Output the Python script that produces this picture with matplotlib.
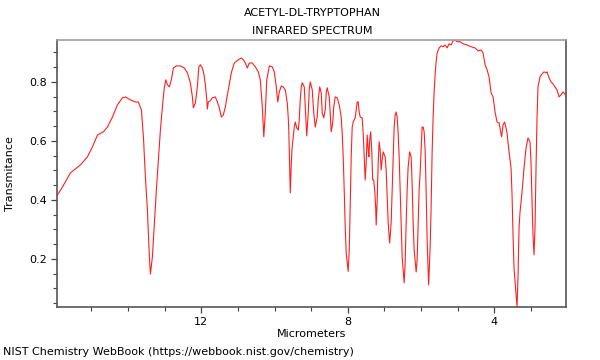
"""IR spectrum of acetyl-DL-tryptophan, NIST WebBook style."""
import matplotlib

matplotlib.use("Agg")
import matplotlib.pyplot as plt  # noqa: E402
from matplotlib.ticker import MultipleLocator  # noqa: E402

TITLE = "ACETYL-DL-TRYPTOPHAN"
SUBTITLE = "INFRARED SPECTRUM"
X_LABEL = "Micrometers"
Y_LABEL = "Transmitance"
FOOTER = "NIST Chemistry WebBook (https://webbook.nist.gov/chemistry)"

# wavelength (micrometers) and transmittance
micrometers = [
    15.929, 15.792, 15.574, 15.301, 15.110, 14.974, 14.837, 14.674, 14.565, 14.428,
    14.292, 14.155, 14.073, 13.937, 13.801, 13.719, 13.637, 13.582, 13.528, 13.473,
    13.419, 13.391, 13.337, 13.282, 13.228, 13.173, 13.118, 13.064, 13.009, 12.968,
    12.927, 12.873, 12.818, 12.764, 12.682, 12.573, 12.464, 12.382, 12.300, 12.245,
    12.218, 12.163, 12.109, 12.068, 12.027, 11.972, 11.931, 11.891, 11.850, 11.836,
    11.809, 11.754, 11.700, 11.618, 11.563, 11.509, 11.454, 11.399, 11.345, 11.263,
    11.181, 11.099, 10.990, 10.908, 10.854, 10.799, 10.745, 10.690, 10.608, 10.526,
    10.444, 10.390, 10.335, 10.294, 10.253, 10.213, 10.144, 10.062, 10.008, 9.953,
    9.912, 9.871, 9.817, 9.762, 9.708, 9.653, 9.626, 9.612, 9.590, 9.571,
    9.550, 9.525, 9.498, 9.462, 9.435, 9.394, 9.353, 9.326, 9.298, 9.271,
    9.244, 9.189, 9.162, 9.121, 9.080, 9.053, 9.026, 8.971, 8.930, 8.889,
    8.835, 8.807, 8.767, 8.726, 8.698, 8.657, 8.616, 8.589, 8.562, 8.507,
    8.480, 8.453, 8.412, 8.384, 8.344, 8.289, 8.234, 8.180, 8.153, 8.125,
    8.098, 8.071, 8.043, 7.989, 7.961, 7.934, 7.907, 7.880, 7.852, 7.798,
    7.771, 7.743, 7.716, 7.689, 7.661, 7.607, 7.580, 7.552, 7.525, 7.498,
    7.470, 7.443, 7.424, 7.402, 7.375, 7.347, 7.320, 7.293, 7.266, 7.238,
    7.225, 7.197, 7.170, 7.143, 7.116, 7.088, 7.061, 7.034, 6.979, 6.952,
    6.925, 6.897, 6.856, 6.816, 6.788, 6.761, 6.734, 6.706, 6.679, 6.652,
    6.625, 6.597, 6.570, 6.543, 6.515, 6.461, 6.434, 6.406, 6.379, 6.352,
    6.311, 6.270, 6.243, 6.215, 6.188, 6.133, 6.106, 6.079, 6.052, 6.024,
    5.997, 5.970, 5.942, 5.915, 5.888, 5.861, 5.833, 5.792, 5.751, 5.724,
    5.697, 5.670, 5.642, 5.615, 5.588, 5.560, 5.506, 5.451, 5.397, 5.342,
    5.288, 5.233, 5.178, 5.124, 5.069, 5.015, 4.933, 4.851, 4.742, 4.633,
    4.524, 4.442, 4.360, 4.305, 4.251, 4.196, 4.142, 4.087, 4.032, 3.978,
    3.923, 3.869, 3.800, 3.760, 3.719, 3.678, 3.651, 3.596, 3.541, 3.514,
    3.487, 3.460, 3.405, 3.378, 3.350, 3.323, 3.296, 3.241, 3.187, 3.132,
    3.078, 3.023, 2.996, 2.968, 2.941, 2.914, 2.887, 2.859, 2.832, 2.805,
    2.750, 2.695, 2.641, 2.586, 2.559, 2.504, 2.450, 2.395, 2.341, 2.286,
    2.231, 2.177, 2.122, 2.068, 2.041,
]
transmittance = [
    0.417, 0.444, 0.492, 0.519, 0.546, 0.580, 0.620, 0.631, 0.647, 0.681,
    0.722, 0.746, 0.749, 0.739, 0.732, 0.732, 0.705, 0.614, 0.478, 0.366,
    0.207, 0.149, 0.207, 0.322, 0.434, 0.536, 0.637, 0.715, 0.783, 0.807,
    0.790, 0.783, 0.807, 0.847, 0.854, 0.854, 0.847, 0.831, 0.797, 0.749,
    0.712, 0.729, 0.783, 0.851, 0.858, 0.847, 0.827, 0.790, 0.739, 0.708,
    0.732, 0.736, 0.746, 0.749, 0.732, 0.712, 0.681, 0.688, 0.715, 0.773,
    0.831, 0.864, 0.875, 0.881, 0.875, 0.864, 0.847, 0.864, 0.864, 0.851,
    0.834, 0.807, 0.715, 0.614, 0.695, 0.807, 0.854, 0.851, 0.834, 0.783,
    0.732, 0.766, 0.786, 0.783, 0.773, 0.729, 0.678, 0.637, 0.519, 0.424,
    0.502, 0.570, 0.603, 0.647, 0.664, 0.644, 0.637, 0.671, 0.739, 0.783,
    0.797, 0.783, 0.715, 0.617, 0.695, 0.773, 0.800, 0.773, 0.695, 0.647,
    0.681, 0.739, 0.783, 0.763, 0.695, 0.678, 0.705, 0.763, 0.780, 0.749,
    0.695, 0.631, 0.661, 0.715, 0.749, 0.746, 0.722, 0.681, 0.627, 0.546,
    0.434, 0.309, 0.220, 0.158, 0.231, 0.376, 0.546, 0.647, 0.664, 0.678,
    0.705, 0.732, 0.732, 0.698, 0.681, 0.678, 0.627, 0.546, 0.468, 0.525,
    0.620, 0.570, 0.546, 0.603, 0.631, 0.570, 0.468, 0.468, 0.434, 0.376,
    0.315, 0.400, 0.525, 0.597, 0.570, 0.502, 0.536, 0.563, 0.546, 0.502,
    0.410, 0.322, 0.254, 0.322, 0.434, 0.546, 0.647, 0.688, 0.698, 0.681,
    0.627, 0.546, 0.434, 0.322, 0.207, 0.119, 0.186, 0.322, 0.434, 0.512,
    0.563, 0.546, 0.458, 0.322, 0.231, 0.156, 0.197, 0.322, 0.434, 0.492,
    0.570, 0.647, 0.647, 0.631, 0.570, 0.434, 0.264, 0.112, 0.240, 0.376,
    0.560, 0.680, 0.766, 0.824, 0.868, 0.898, 0.915, 0.922, 0.919, 0.925,
    0.915, 0.929, 0.925, 0.939, 0.942, 0.936, 0.936, 0.929, 0.925, 0.919,
    0.915, 0.905, 0.908, 0.898, 0.858, 0.841, 0.817, 0.763, 0.749, 0.698,
    0.664, 0.661, 0.614, 0.654, 0.664, 0.644, 0.627, 0.563, 0.508, 0.417,
    0.281, 0.169, 0.078, 0.037, 0.146, 0.305, 0.359, 0.427, 0.508, 0.576,
    0.610, 0.597, 0.529, 0.393, 0.281, 0.214, 0.305, 0.508, 0.678, 0.783,
    0.817, 0.827, 0.834, 0.831, 0.834, 0.814, 0.800, 0.793, 0.783, 0.773,
    0.749, 0.756, 0.766, 0.759, 0.749,
]

x_major = [12, 8, 4]


def main() -> None:
    plt.rcParams["font.family"] = "DejaVu Sans"
    fig = plt.figure(figsize=(6.0, 3.6), dpi=100)
    ax = fig.add_axes([0.0958, 0.147, 0.8475, 0.742])

    ax.plot(micrometers, transmittance, color="#ff2020", lw=0.8)

    ax.set_xlim(max(micrometers), min(micrometers))
    ax.set_ylim(min(transmittance), max(transmittance))

    ax.set_xticks(x_major)
    ax.xaxis.set_minor_locator(MultipleLocator(1))
    ax.yaxis.set_major_locator(MultipleLocator(0.2))
    ax.yaxis.set_minor_locator(MultipleLocator(0.05))
    ax.tick_params(which="both", direction="out", labelsize=8, colors="#444444",
                   labelcolor="black", top=False, right=False)
    ax.tick_params(which="major", length=4, width=0.9)
    ax.tick_params(which="minor", length=3, width=0.8)

    for side, col in (("left", "#555555"), ("bottom", "#555555"),
                      ("top", "#a0a0a0"), ("right", "#555555")):
        ax.spines[side].set_color(col)
        ax.spines[side].set_linewidth(1.2)

    ax.set_xlabel(X_LABEL, fontsize=8, labelpad=1)
    ax.set_ylabel(Y_LABEL, fontsize=8, labelpad=10)

    fig.text(0.52, 0.965, TITLE, ha="center", va="center", fontsize=8)
    fig.text(0.52, 0.915, SUBTITLE, ha="center", va="center", fontsize=8)
    fig.text(0.005, 0.022, FOOTER, ha="left", va="center", fontsize=8)

    fig.savefig("out.png", dpi=100)
    plt.close(fig)


if __name__ == "__main__":
    main()
